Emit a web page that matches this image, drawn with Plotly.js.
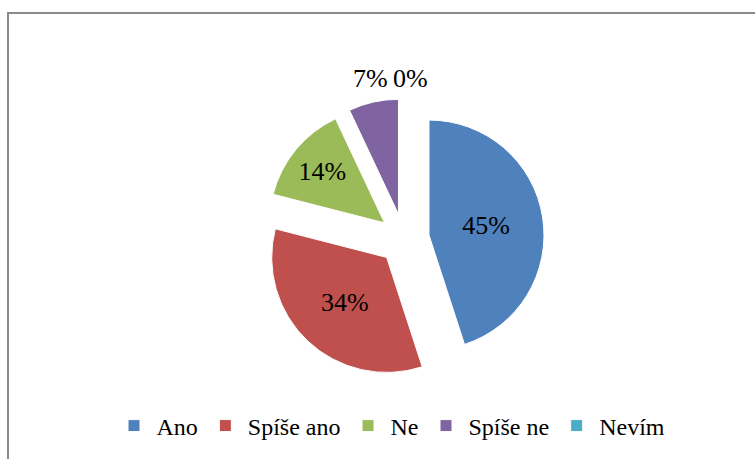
<!DOCTYPE html>
<html>
<head>
<meta charset="utf-8">
<script src="https://cdn.plot.ly/plotly-3.0.1.min.js"></script>
<style>
  body { margin: 0; font-family: 'Liberation Serif', serif; }
  #chart { width: 755px; height: 459px; }
</style>
</head>
<body>
<div id="chart"></div>
<script>
// Survey answers and their shares (%)
const labels = ['Ano', 'Spíše ano', 'Ne', 'Spíše ne', 'Nevím'];
const shares = [45, 34, 14, 7, 0];
const sliceColors = ['#4F81BD', '#C0504D', '#9BBB59', '#8064A2', '#4BACC6'];
const labelPlacement = ['inside', 'inside', 'inside', 'none', 'none'];

const W = 755, H = 459;
const labelFont = { family: 'Liberation Serif', size: 26, color: '#000000' };
const legendFont = { family: 'Liberation Serif', size: 24, color: '#000000' };

// pie box in pixels (centre 404,239; radius 115 with pull 0.22)
const cx = 404, cy = 239, pull = 0.22, radius = 115;
const half = radius * (1 + pull);

const trace = {
  type: 'pie',
  labels: labels,
  values: shares,
  sort: false,
  direction: 'clockwise',
  rotation: 0,
  pull: labels.map(() => pull),
  marker: { colors: sliceColors, line: { color: '#ffffff', width: 1 } },
  textinfo: 'percent',
  textposition: labelPlacement,
  insidetextorientation: 'horizontal',
  textfont: labelFont,
  insidetextfont: labelFont,
  hoverinfo: 'label+percent',
  domain: {
    x: [(cx - half) / W, (cx + half) / W],
    y: [1 - (cy + half) / H, 1 - (cy - half) / H]
  }
};

// the two smallest slices get their labels set above the pie
const topLabels = [3, 4].map((i, k) => ({
  text: shares[i] + '%',
  xref: 'paper', yref: 'paper',
  x: [370, 410][k] / W,
  y: 1 - 79 / H,
  xanchor: 'center', yanchor: 'middle',
  showarrow: false,
  font: labelFont
}));

const layout = {
  width: W,
  height: H,
  margin: { l: 0, r: 0, t: 0, b: 0 },
  font: legendFont,
  showlegend: true,
  legend: {
    orientation: 'h',
    x: 391 / W,
    xanchor: 'center',
    y: 1 - 426 / H,
    yanchor: 'middle',
    itemwidth: 35,
    font: legendFont,
    traceorder: 'normal'
  },
  annotations: topLabels,
  shapes: [{
    type: 'rect',
    xref: 'paper', yref: 'paper',
    x0: 8 / W, x1: 1.02,
    y0: -0.02, y1: 1 - 13 / H,
    line: { color: '#8a8a8a', width: 2 },
    fillcolor: 'rgba(0,0,0,0)'
  }]
};

Plotly.newPlot('chart', [trace], layout, { displayModeBar: false, staticPlot: true });
</script>
</body>
</html>
